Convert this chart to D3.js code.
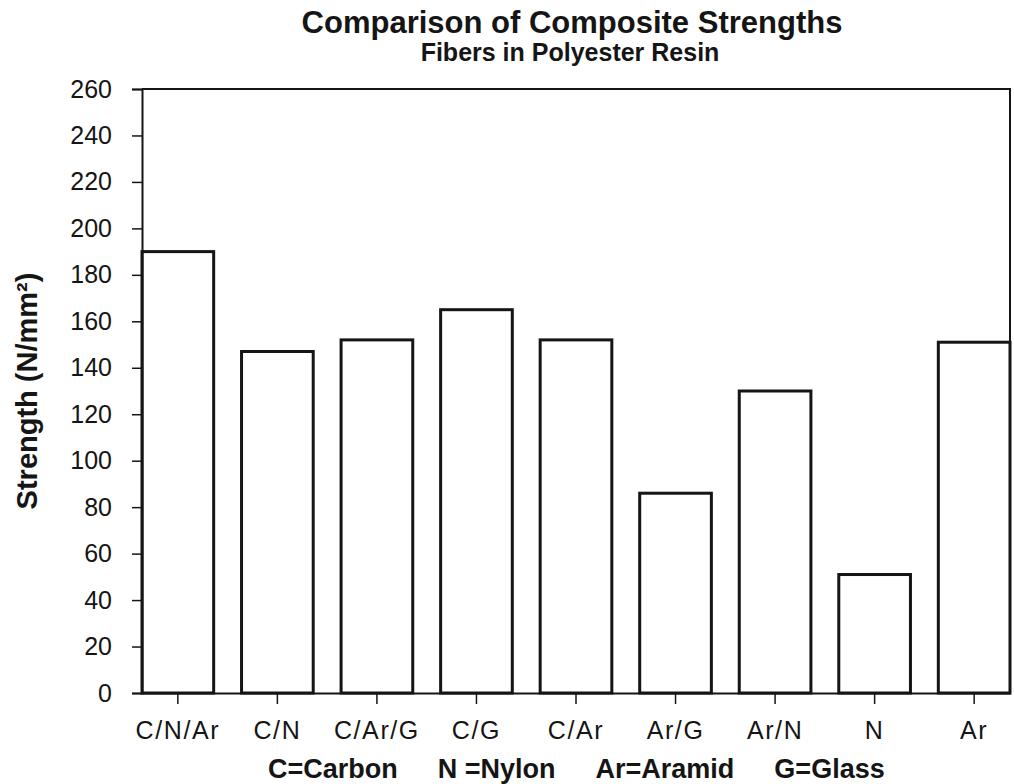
<!DOCTYPE html>
<html>
<head>
<meta charset="utf-8">
<script src="https://cdn.jsdelivr.net/npm/d3@7"></script>
<style>
  body { margin: 0; background: #fff; }
  svg { display: block; font-family: "Liberation Sans", Arial, sans-serif; }
</style>
</head>
<body>
<div id="chart"></div>
<script>
// Composite strength, fibers in polyester resin
const fibers = ["C/N/Ar", "C/N", "C/Ar/G", "C/G", "C/Ar", "Ar/G", "Ar/N", "N", "Ar"];
const strengths = [190, 147, 152, 165, 152, 86, 130, 51, 151];
const yTicks = [0, 20, 40, 60, 80, 100, 120, 140, 160, 180, 200, 220, 240, 260];
const legendItems = ["C=Carbon", "N =Nylon", "Ar=Aramid", "G=Glass"];

const width = 1014, height = 784;
const margin = { top: 89, right: 4, bottom: 91, left: 142 };
const ink = "#151515";
const font = "Liberation Sans, Arial, sans-serif";

const svg = d3.select("#chart").append("svg")
    .attr("width", width)
    .attr("height", height);

const x = d3.scaleBand()
    .domain(fibers)
    .range([margin.left, width - margin.right])
    .paddingInner(0.28)
    .paddingOuter(0);

const y = d3.scaleLinear()
    .domain([0, 260])
    .range([height - margin.bottom, margin.top]);

// titles
svg.append("text")
    .attr("x", 572).attr("y", 33)
    .attr("text-anchor", "middle")
    .attr("font-size", 31).attr("font-weight", "bold")
    .attr("fill", ink)
    .text("Comparison of Composite Strengths");

svg.append("text")
    .attr("x", 570).attr("y", 61)
    .attr("text-anchor", "middle")
    .attr("font-size", 25).attr("font-weight", "bold")
    .attr("fill", ink)
    .text("Fibers in Polyester Resin");

// frame: top and right edges
svg.append("path")
    .attr("d", `M${margin.left},${y(260)}H${width - margin.right}V${y(0)}`)
    .attr("fill", "none")
    .attr("stroke", ink)
    .attr("stroke-width", 2);

// bars
svg.append("g").selectAll("rect")
  .data(fibers)
  .join("rect")
    .attr("x", d => x(d))
    .attr("y", (d, i) => y(strengths[i]))
    .attr("width", x.bandwidth())
    .attr("height", (d, i) => y(0) - y(strengths[i]))
    .attr("fill", "#fff")
    .attr("stroke", ink)
    .attr("stroke-width", 3);

// y axis
const yAxis = svg.append("g")
    .attr("transform", `translate(${margin.left},0)`)
    .call(d3.axisLeft(y).tickValues(yTicks).tickSize(10).tickPadding(20));
yAxis.select(".domain").attr("stroke", ink).attr("stroke-width", 2);
yAxis.selectAll(".tick line").attr("stroke", ink).attr("stroke-width", 1.5);
yAxis.selectAll(".tick text")
    .attr("font-size", 25)
    .attr("fill", ink)
    .attr("font-family", font);

// x axis
const xAxis = svg.append("g")
    .attr("transform", `translate(0,${y(0)})`)
    .call(d3.axisBottom(x).tickSize(11).tickPadding(17).tickSizeOuter(0));
xAxis.select(".domain").attr("stroke", ink).attr("stroke-width", 2);
xAxis.selectAll(".tick line").attr("stroke", ink).attr("stroke-width", 1.5);
xAxis.selectAll(".tick text")
    .attr("font-size", 25)
    .attr("letter-spacing", 1.6)
    .attr("fill", ink)
    .attr("font-family", font);

// y axis label
svg.append("text")
    .attr("transform", `translate(37,${(y(0) + y(260)) / 2}) rotate(-90)`)
    .attr("text-anchor", "middle")
    .attr("font-size", 29).attr("font-weight", "bold")
    .attr("fill", ink)
    .text("Strength (N/mm²)");

// abbreviation key under the axis
svg.append("text")
    .attr("x", 268).attr("y", 778)
    .attr("font-size", 27).attr("font-weight", "bold")
    .attr("fill", ink)
  .selectAll("tspan")
  .data(legendItems)
  .join("tspan")
    .attr("dx", (d, i) => i === 0 ? 0 : 40)
    .text(d => d);
</script>
</body>
</html>
